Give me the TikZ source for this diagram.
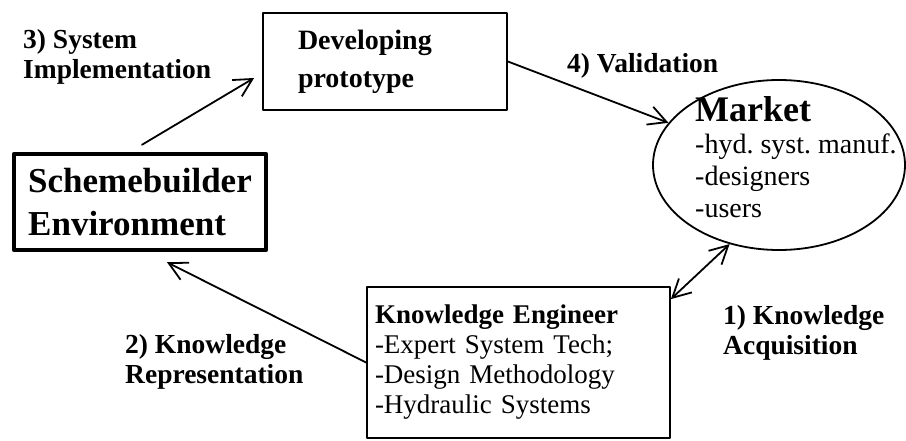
\documentclass[tikz,border=0pt]{standalone}
\usepackage{fontspec}
\setmainfont{Liberation Serif}
\usetikzlibrary{arrows.meta,shapes.geometric}
\frenchspacing

\begin{document}
\begin{tikzpicture}[line cap=round,line join=round,>={Straight Barb[length=18pt,width=19pt]},x=1pt,y=-1pt,
	lbl/.style={anchor=north west,inner sep=0pt,align=left,font=\fontsize{27.5}{30}\selectfont\bfseries},
	box/.style={draw,line width=1.8pt,inner sep=0pt},
	link/.style={line width=1.8pt}]
		\useasboundingbox (0,0) rectangle (906,441);
		\node[box,line width=4.5pt,minimum width=252pt,minimum height=96pt,align=left,font=\fontsize{35}{43}\selectfont\bfseries] (sb) at (140,202) {Schemebuilder\\Environment};
		\node[box,minimum height=97pt,text width=174pt,inner xsep=35pt,align=left,font=\fontsize{28}{38}\selectfont\bfseries] (proto) at (385,61.5) {Developing\\prototype};
		\node[draw,ellipse,line width=1.8pt,minimum width=252pt,minimum height=170pt] (market) at (779,165) {};
		\node[anchor=north west,inner sep=0pt,align=left,font=\fontsize{28}{32}\selectfont] (mkt) at (695,96) {{\fontsize{36}{36}\selectfont\bfseries Market}\\-hyd. syst. manuf.\\-designers\\-users};
		\node[box,text width=287pt,inner xsep=8pt,minimum height=151pt,align=left,font=\fontsize{27}{30}\selectfont] (ke) at (518.5,362.5) {\textbf{Knowledge Engineer}\\-Expert System Tech;\\-Design Methodology\\-Hydraulic Systems};
		\node[lbl] (impl) at (23,29) {3) System\\Implementation};
		\node[lbl] (valid) at (567,53) {4) Validation};
		\node[lbl] (acq) at (723,305) {1) Knowledge\\Acquisition};
		\node[lbl] (repr) at (125,334) {2) Knowledge\\Representation};
		\draw[link,->] ([xshift=2pt,yshift=7pt]sb.north) -- ([xshift=-8pt,yshift=-16.5pt]proto.west);
		\draw[link,->] (proto.east) -- (market);
		\draw[link,<->] ([yshift=-13pt]ke.north east) -- (market.238);
		\draw[link,->] (ke.west) -- ([xshift=27pt,yshift=-10pt]sb.south);
\end{tikzpicture}
\end{document}
